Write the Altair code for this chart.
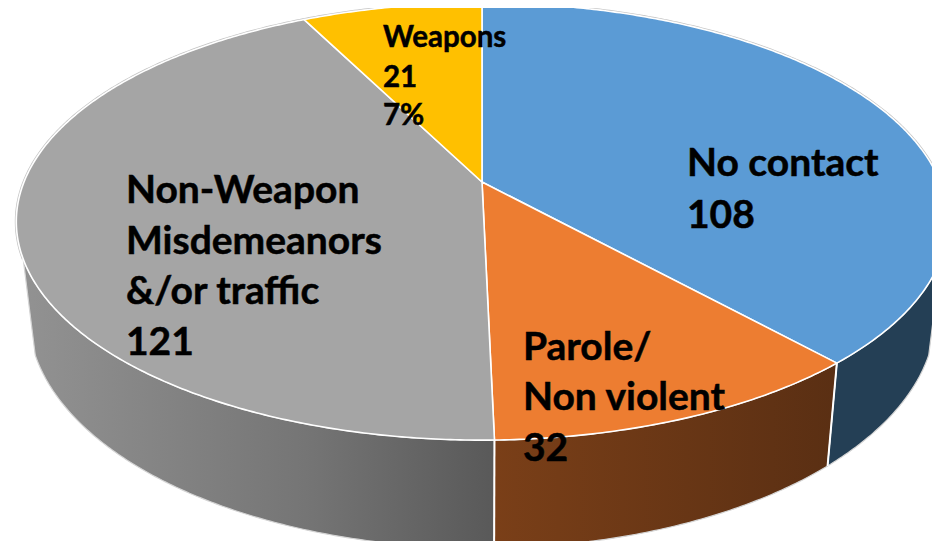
import numpy as np
import pandas as pd
import altair as alt

# --- chart values -------------------------------------------------------
categories = ["No contact", "Parole/Non violent", "Non-Weapon Misdemeanors &/or traffic", "Weapons"]
values = [108, 32, 121, 21]

label_lines = [
    ["No contact", "108"],
    ["Parole/", "Non violent", "32"],
    ["Non-Weapon", "Misdemeanors", "&/or traffic", "121"],
    ["Weapons", "21", "7%"],
]

# --- styles --------------------------------------------------------------
top_colors = ["#5B9BD5", "#ED7D31", "#A5A5A5", "#FFC000"]
wall_fills = [
    "#243F55",
    alt.LinearGradient(gradient="linear", x1=0, y1=0, x2=1, y2=0,
                       stops=[alt.GradientStop(offset=0, color="#7A3F18"),
                              alt.GradientStop(offset=1, color="#5A2F13")]),
    alt.LinearGradient(gradient="linear", x1=0, y1=0, x2=1, y2=0,
                       stops=[alt.GradientStop(offset=0, color="#929292"),
                              alt.GradientStop(offset=0.6, color="#757575"),
                              alt.GradientStop(offset=1, color="#595959")]),
]

# --- 3-D pie projection (tilted disc seen in perspective) ----------------
K = 0.181
CX, CY_TOP, A_TOP, B_TOP = 482.0, 182.0, 458.0, 211.4
CY_LOW, A_LOW, B_LOW = 272.8, 446.0, 225.5
SILHOUETTE_RIGHT, SILHOUETTE_LEFT = 110.0, 250.0
PLOT_W = 924
PLOT_H = 533
X_DOMAIN = [8, 8 + PLOT_W]
Y_DOMAIN = [8 + PLOT_H, 8]


def project(theta_deg, low=False):
    t = np.radians(theta_deg)
    u, v = np.sin(t), np.cos(t)
    w = 1 + K * v
    if low:
        return CX + A_LOW * u / w, CY_LOW - B_LOW * v / w
    return CX + A_TOP * u / w, CY_TOP - B_TOP * v / w


def arc(a, b, low=False):
    n = max(int(abs(b - a)) * 2, 2)
    return project(np.linspace(a, b, n + 1), low)


def frame(xs, ys):
    xs, ys = np.asarray(xs), np.asarray(ys)
    return pd.DataFrame({"x": xs, "y": ys, "i": np.arange(len(xs))})


def poly(df, **mark):
    return alt.Chart(df).mark_line(interpolate="linear", strokeJoin="round", clip=True, **mark).encode(
        x=alt.X("x:Q", axis=None, scale=alt.Scale(domain=X_DOMAIN, nice=False, zero=False)),
        y=alt.Y("y:Q", axis=None, scale=alt.Scale(domain=Y_DOMAIN, nice=False, zero=False)),
        order="i:Q",
    )


edges = np.concatenate([[0], np.cumsum(values) / sum(values) * 360])

layers = []

# side walls of the three front slices
wall_ranges = [
    (SILHOUETTE_RIGHT, edges[1]),
    (edges[1], edges[2]),
    (edges[2], SILHOUETTE_LEFT),
]
for (a, b), fill in zip(wall_ranges, wall_fills):
    tx, ty = arc(a, b)
    lx, ly = arc(b, a, low=True)
    xs = np.concatenate([tx, lx, tx[:1]])
    ys = np.concatenate([ty, ly, ty[:1]])
    layers.append(poly(frame(xs, ys), fill=fill, stroke="#D4D4D4", strokeWidth=1.2))

# white edges between the walls
for e in edges[1:3]:
    tx, ty = project(np.array([e]))
    lx, ly = project(np.array([e]), low=True)
    layers.append(poly(frame([tx[0], lx[0]], [ty[0], ly[0]]), stroke="white", strokeWidth=2))

# grey fringe along the back rim
bx, by = arc(SILHOUETTE_LEFT, SILHOUETTE_RIGHT + 360)
layers.append(poly(frame(bx, by), stroke="#C4C4C4", strokeWidth=3))

# top faces
for i in range(len(values)):
    tx, ty = arc(edges[i], edges[i + 1])
    xs = np.concatenate([[CX], tx, [CX]])
    ys = np.concatenate([[CY_TOP], ty, [CY_TOP]])
    layers.append(poly(frame(xs, ys), fill=top_colors[i], stroke="white", strokeWidth=1.6))


# labels
def text_layer(lines, x0, baselines, size):
    df = pd.DataFrame({"t": lines, "x": [x0] * len(lines), "y": baselines})
    return alt.Chart(df).mark_text(
        align="left", baseline="alphabetic", font="Lato", fontWeight="bold",
        fontSize=size, color="#000000", stroke="#000000", strokeWidth=0.5,
    ).encode(
        x=alt.X("x:Q", axis=None, scale=alt.Scale(domain=X_DOMAIN, nice=False, zero=False)),
        y=alt.Y("y:Q", axis=None, scale=alt.Scale(domain=Y_DOMAIN, nice=False, zero=False)),
        text="t:N",
    )


layers.append(text_layer(label_lines[0], 687, [176, 228], 39))
layers.append(text_layer(label_lines[1], 523, [360, 410, 461], 39))
layers.append(text_layer(label_lines[2], 126, [203, 254, 304, 355], 39))
layers.append(text_layer(label_lines[3], 383, [47, 87, 125], 29.5))

chart = alt.layer(*layers).properties(
    width=PLOT_W, height=PLOT_H, padding=0,
    autosize=alt.AutoSizeParams(type="none"),
    background="white",
).configure_view(stroke=None)

chart.save("out.html", embed_options={"renderer": "svg", "actions": False})
